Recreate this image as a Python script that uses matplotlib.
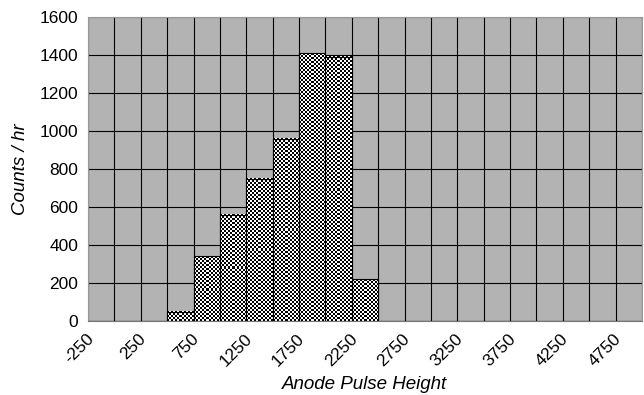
import numpy as np
import matplotlib
matplotlib.use("Agg")
import matplotlib.pyplot as plt
import matplotlib.transforms as mtransforms

plt.rcParams['font.family'] = ['Liberation Sans', 'DejaVu Sans']

# pulse height bins (lower edge) and counts per hour
bins = list(range(-250, 5000, 250))
counts = [0, 0, 0, 50, 340, 560, 750, 960, 1410, 1390, 220,
          0, 0, 0, 0, 0, 0, 0, 0, 0, 0]
tick_labels = [str(b) for b in bins]

fig = plt.figure(figsize=(6.44, 3.95), dpi=100)
ax = fig.add_axes([0.1366, 0.1873, 0.8603, 0.7697])
ax.set_facecolor('#b3b3b3')

x = np.arange(len(bins))
bars = ax.bar(x, counts, width=1.0, facecolor='none', edgecolor='black',
              linewidth=0.8, zorder=3)

ax.set_xlim(-0.5, len(bins) - 0.5)
ax.set_ylim(0, 1600)

# checkered fill for each bar, cells about 2 px
fig.canvas.draw()
for rect in bars:
    h = rect.get_height()
    if h <= 0:
        continue
    x0 = rect.get_x()
    x1 = x0 + rect.get_width()
    p0 = ax.transData.transform((x0, 0))
    p1 = ax.transData.transform((x1, h))
    nx = max(1, int(round((p1[0] - p0[0]) / 2)))
    ny = max(1, int(round((p1[1] - p0[1]) / 2)))
    checker = np.indices((ny, nx)).sum(axis=0) % 2
    ax.imshow(checker, cmap='gray', extent=(x0, x1, 0, h), aspect='auto',
              interpolation='nearest', zorder=2, vmin=0, vmax=1)

ax.set_xlim(-0.5, len(bins) - 0.5)
ax.set_ylim(0, 1600)

ax.set_yticks(range(0, 1601, 200))
ax.set_xticks(x[::2])
ax.set_xticklabels(tick_labels[::2], rotation=45, ha='right', va='center',
                   rotation_mode='anchor')
ax.set_xticks(np.arange(-0.5, len(bins), 1.0), minor=True)
ax.tick_params(axis='both', which='both', length=0, labelsize=12.5)
ax.tick_params(axis='y', pad=7)
ax.tick_params(axis='x', pad=11)

# nudge the slanted labels left so they sit under their bins
shift = mtransforms.ScaledTranslation(-10 / 100, 0, fig.dpi_scale_trans)
for lbl in ax.get_xticklabels():
    lbl.set_transform(lbl.get_transform() + shift)

ax.grid(True, which='minor', axis='x', color='black', linewidth=0.8, zorder=1)
ax.grid(True, which='major', axis='y', color='black', linewidth=0.8, zorder=1)
ax.set_axisbelow(True)

for side in ['top', 'right', 'left']:
    ax.spines[side].set_color('#999999')
ax.spines['bottom'].set_color('#777777')

ax.set_xlabel('Anode Pulse Height', fontsize=13.5, style='italic', labelpad=5)
ax.set_ylabel('Counts / hr', fontsize=13.5, style='italic', labelpad=8)

fig.savefig('out.png', dpi=100)
